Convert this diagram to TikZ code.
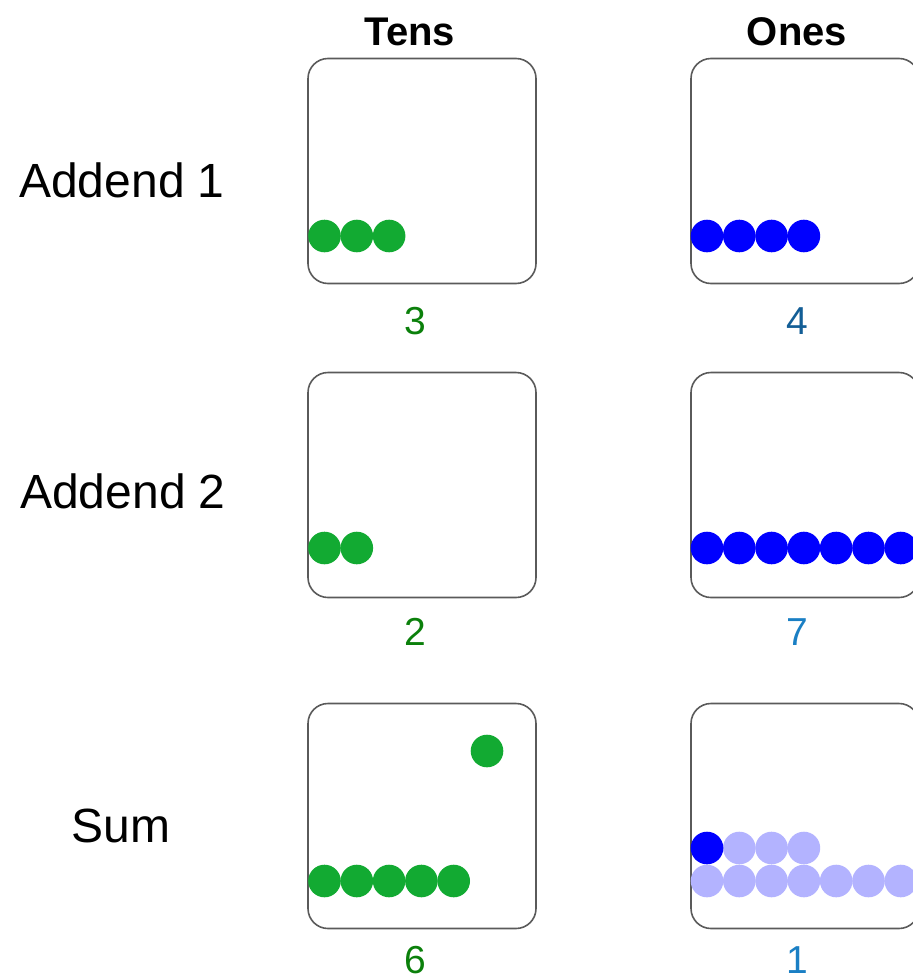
\documentclass[tikz,border=0pt]{standalone}
\usepackage{fontspec}
\setmainfont{Liberation Sans}
\definecolor{bead}{RGB}{18,170,50}
\definecolor{unit}{RGB}{0,0,255}
\definecolor{unitpale}{RGB}{179,179,255}
\definecolor{tensnum}{RGB}{11,128,11}
\definecolor{onesdark}{RGB}{19,94,150}
\definecolor{oneslight}{RGB}{26,127,196}
\definecolor{frame}{RGB}{90,90,90}
\tikzset{
  tray/.style={draw=frame, line width=1.6pt, rounded corners=20pt, fill=white,
    minimum width=228pt, minimum height=225pt, inner sep=0pt},
  rowlabel/.style={anchor=base, font=\fontsize{48}{50}\selectfont},
  colhead/.style={anchor=base, font=\fontsize{40}{44}\selectfont\bfseries},
  digit/.style={anchor=base, inner sep=0pt, font=\fontsize{39}{42}\selectfont},
  tenbead/.style={fill=bead},
  onebead/.style={fill=unit},
  palebead/.style={fill=unitpale},
}
\begin{document}
\begin{tikzpicture}[x=1pt,y=-1pt]
\useasboundingbox (0,0) rectangle (913,980);
\clip (0,0) rectangle (913,980);

% column headers
\node[colhead] (hT) at (410,45) {Tens};
\node[colhead] (hO) at (797,45) {Ones};

% row labels
\node[rowlabel] (r1) at (122,197) {Addend 1};
\node[rowlabel] (r2) at (123,508) {Addend 2};
\node[rowlabel] (r3) at (121,842) {Sum};

% trays
\node[tray] (t1) at (422,171) {};
\node[tray] (o1) at (805,171) {};
\node[tray] (t2) at (422,485) {};
\node[tray] (o2) at (805,485) {};
\node[tray] (t3) at (422,816) {};
\node[tray] (o3) at (805,816) {};

% Addend 1 beads
\foreach \i in {0,1,2} \fill[tenbead] (324.5+32.3*\i,236) circle (16.3);
\foreach \i in {0,...,3} \fill[onebead] (707+32.3*\i,236) circle (16.3);

% Addend 2 beads
\foreach \i in {0,1} \fill[tenbead] (324.5+32.3*\i,548) circle (16.3);
\foreach \i in {0,...,6} \fill[onebead] (707+32.3*\i,548) circle (16.3);

% Sum beads: carried ten and the remaining one
\foreach \i in {0,...,4} \fill[tenbead] (324.5+32.3*\i,881) circle (16.3);
\fill[tenbead] (487,751) circle (16.3);
\foreach \i in {0,...,6} \fill[palebead] (707+32.3*\i,881) circle (16.3);
\foreach \i in {1,2,3} \fill[palebead] (707+32.3*\i,848) circle (16.3);
\fill[onebead] (707,848) circle (16.3);

% digit values
\node[digit, text=tensnum] (d1) at (415,334) {3};
\node[digit, text=onesdark] (e1) at (797,334) {4};
\node[digit, text=tensnum] (d2) at (415,645) {2};
\node[digit, text=oneslight] (e2) at (797,645) {7};
\node[digit, text=tensnum] (d3) at (415,973) {6};
\node[digit, text=oneslight] (e3) at (797,973) {1};
\end{tikzpicture}
\end{document}
